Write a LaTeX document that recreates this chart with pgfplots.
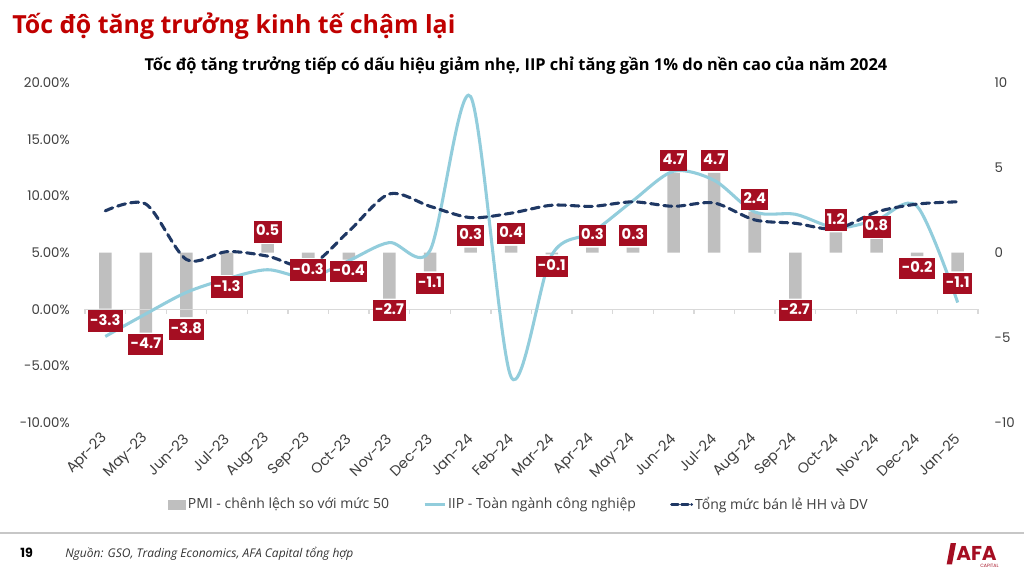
\documentclass[border=0pt]{standalone}
\usepackage{fontspec}
\usepackage{pgfplots}
\usepackage{pgfplotstable}
\pgfplotsset{compat=1.18}
\setmainfont{Open Sans}
\newfontfamily\pop{Poppins}
\definecolor{titlered}{HTML}{C00000}
\definecolor{lblred}{HTML}{A50E22}
\definecolor{barg}{HTML}{BFBFBF}
\definecolor{iipc}{HTML}{92CDDC}
\definecolor{navy}{HTML}{1F3864}
\definecolor{tickc}{HTML}{404040}
\definecolor{axc}{HTML}{D9D9D9}

\pgfplotstableread{
i pmi iip retail
0 -3.3 -2.4 8.7
1 -4.7 -0.4 9.3
2 -3.8 1.5 4.4
3 -1.3 2.7 5.1
4 0.5 3.5 4.7
5 -0.3 2.8 3.8
6 -0.4 4.3 6.9
7 -2.7 5.9 10.2
8 -1.1 5.2 9.1
9 0.3 18.8 8.1
10 0.4 -6.0 8.5
11 -0.1 4.8 9.2
12 0.3 6.8 9.1
13 0.3 9.6 9.5
14 4.7 12.2 9.1
15 4.7 11.4 9.4
16 2.4 8.6 7.9
17 -2.7 8.4 7.6
18 1.2 7.2 7.1
19 0.8 7.9 8.6
20 -0.2 9.1 9.3
21 -1.1 0.6 9.5
}\data

\pgfplotsset{base/.style={
  scale only axis, width=669.75pt, height=254.6pt,
  at={(63.75pt,111.4pt)}, anchor=south west,
  xmin=-0.5, xmax=21.5,
  axis line style={draw=none}, major tick length=0pt,
  tick label style={font=\pop\fontsize{10}{12}\selectfont, text=tickc},
  /pgf/number format/assume math mode=true,
  clip=false}}

\begin{document}
\begin{tikzpicture}
\path[use as bounding box] (0,0) rectangle (768pt,428.25pt);
\fill[white] (0,0) rectangle (768pt,428.25pt);

% titles
\node[anchor=base west, inner sep=0pt, text=titlered, font=\bfseries\fontsize{18.7}{22}\selectfont] at (9pt,403pt) {Tốc độ tăng trưởng kinh tế chậm lại};
\node[anchor=base, inner sep=0pt, text=black, font=\bfseries\fontsize{12.3}{14}\selectfont] at (387pt,375pt) {Tốc độ tăng trưởng tiếp có dấu hiệu giảm nhẹ, IIP chỉ tăng gần 1\% do nền cao của năm 2024};

% bars axis (right)
\begin{axis}[base, ymin=-10, ymax=10,
  axis y line*=right, axis x line*=bottom,
  ytick={-10,-5,0,5,10},
  yticklabel style={anchor=west, xshift=9pt},
  xtick={0,...,21},
  xticklabels={Apr-23,May-23,Jun-23,Jul-23,Aug-23,Sep-23,Oct-23,Nov-23,Dec-23,Jan-24,Feb-24,Mar-24,Apr-24,May-24,Jun-24,Jul-24,Aug-24,Sep-24,Oct-24,Nov-24,Dec-24,Jan-25},
  xticklabel style={font=\pop\fontsize{10.8}{12}\selectfont, yshift=-8pt, xshift=2pt, rotate=45, anchor=east}]
\addplot[ybar, bar width=9.4pt, fill=barg, draw=none] table[x=i,y=pmi]{\data};
\end{axis}

% lines axis (left)
\begin{axis}[base, ymin=-10, ymax=20,
  axis y line*=left, axis x line=none,
  ytick={-10,-5,0,5,10,15,20},
  yticklabel={\pgfmathprintnumber[fixed,fixed zerofill,precision=2]{\tick}\%},
  yticklabel style={anchor=east, xshift=-8pt},
  legend columns=3,
  legend style={at={(axis description cs:0.486,-0.242)}, anchor=center, draw=none, fill=none,
    font=\fontsize{10.5}{12}\selectfont, text=tickc,
    /tikz/every even column/.append style={column sep=24pt},
    nodes={inner xsep=1.5pt}},
  ]
\draw[axc, line width=1pt] (axis cs:-0.5,0) -- (axis cs:21.5,0);
\pgfplotsinvokeforeach{-0.5,0.5,...,21.5}{\draw[axc, line width=1pt] (axis cs:#1,0) -- ++(0pt,-3.5pt);}
\addlegendimage{legend image code/.code={\fill[barg] (0pt,-3.4pt) rectangle (12.75pt,3.4pt);}}
\addlegendentry{PMI - chênh lệch so với mức 50}
\addplot[iipc, line width=2.3pt, smooth, no marks,
  legend image code/.code={\draw[iipc, line width=2.3pt] (0pt,0pt) -- (15pt,0pt);}] table[x=i,y=iip]{\data};
\addlegendentry{IIP - Toàn ngành công nghiệp}
\addplot[navy, line width=2.3pt, smooth, no marks, dash pattern=on 6pt off 4pt, line cap=round,
  legend image code/.code={\draw[navy, line width=2.3pt, dash pattern=on 5pt off 2.5pt] (0pt,0pt) -- (15pt,0pt);}] table[x=i,y=retail]{\data};
\addlegendentry{Tổng mức bán lẻ HH và DV}
\end{axis}

% labels axis
\begin{axis}[base, ymin=-10, ymax=10, hide axis]
\addplot[ybar, bar width=9.4pt, draw=none, fill=none,
  point meta=y,
  nodes near coords={\pgfmathprintnumber[fixed,fixed zerofill,precision=1,assume math mode=true]{\pgfplotspointmeta}},
  nodes near coords align={vertical},
  every node near coord/.append style={font=\pop\bfseries\fontsize{11}{12}\selectfont, text=white, fill=lblred,
    inner xsep=1.8pt, inner ysep=0pt, text height=11pt, text depth=5pt, outer sep=1.2pt}]
  table[x=i,y=pmi]{\data};
\end{axis}

% footer
\draw[line width=1.5pt, color=black!22] (0pt,28.5pt) -- (768pt,28.5pt);
\node[anchor=base west, inner sep=0pt, font=\pop\bfseries\fontsize{9.5}{11}\selectfont] at (15pt,10.5pt) {19};
\node[anchor=base west, inner sep=0pt, font=\itshape\fontsize{9}{11}\selectfont, text=black!80] at (48.75pt,10.5pt) {Nguồn: GSO, Trading Economics, AFA Capital tổng hợp};
% logo
\fill[lblred] (713pt,21pt) -- (717pt,21pt) -- (714pt,5pt) -- (710pt,5pt) -- cycle;
\node[anchor=base west, inner sep=0pt, text=lblred, font=\pop\bfseries\fontsize{15}{16}\selectfont] at (717pt,8pt) {AFA};
\node[anchor=base west, inner sep=0pt, text=lblred, font=\pop\fontsize{3.5}{4}\selectfont] at (735pt,2.5pt) {CAPITAL};
\end{tikzpicture}
\end{document}
